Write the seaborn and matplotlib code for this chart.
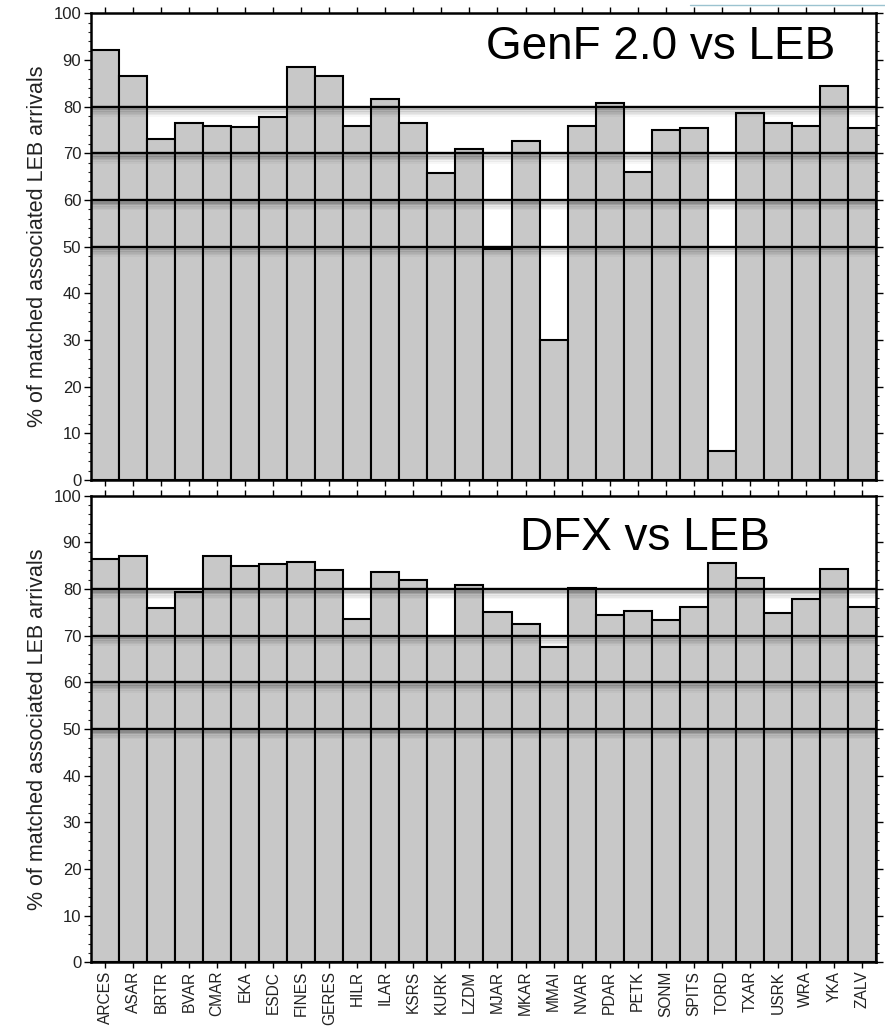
import numpy as np
import pandas as pd
import matplotlib
matplotlib.use("Agg")
import matplotlib.pyplot as plt
import matplotlib.patheffects as pe
from matplotlib.lines import Line2D
from matplotlib.ticker import MultipleLocator
import seaborn as sns

stations = ["ARCES", "ASAR", "BRTR", "BVAR", "CMAR", "EKA", "ESDC", "FINES", "GERES",
            "HILR", "ILAR", "KSRS", "KURK", "LZDM", "MJAR", "MKAR", "MMAI", "NVAR",
            "PDAR", "PETK", "SONM", "SPITS", "TORD", "TXAR", "USRK", "WRA", "YKA", "ZALV"]
genf_pct = [92.1, 86.5, 73.0, 76.6, 75.9, 75.6, 77.8, 88.5, 86.5,
            75.9, 81.6, 76.4, 65.8, 71.0, 49.5, 72.6, 30.0, 75.9,
            80.7, 66.0, 74.9, 75.5, 6.2, 78.7, 76.6, 75.8, 84.4, 75.5]
dfx_pct = [86.4, 87.0, 76.0, 79.4, 87.1, 85.0, 85.3, 85.8, 84.1,
           73.6, 83.6, 81.9, 69.9, 80.8, 75.1, 72.5, 67.5, 80.3,
           74.4, 75.3, 73.3, 76.2, 85.5, 82.3, 74.8, 77.8, 84.3, 76.2]
ref_levels = [50, 60, 70, 80]
titles = ["GenF 2.0 vs LEB", "DFX vs LEB"]
ylabel = "% of matched associated LEB arrivals"

sns.set_theme(style="ticks")
plt.rcParams["font.family"] = ["Liberation Sans", "DejaVu Sans"]

fig = plt.figure(figsize=(8.85, 10.27), dpi=100)
ax_top = fig.add_axes([0.1028, 0.5326, 0.8870, 0.4544])
ax_bot = fig.add_axes([0.1028, 0.0630, 0.8870, 0.4544])

shadow = [pe.SimpleLineShadow(offset=(0, -1.2 * k), shadow_color="black",
                              alpha=a, linewidth=2.2)
          for k, a in zip(range(1, 6), [0.20, 0.13, 0.08, 0.05, 0.03])] + [pe.Normal()]

configs = [(ax_top, genf_pct, titles[0], 0.948, 0.928, False),
           (ax_bot, dfx_pct, titles[1], 0.865, 0.909, True)]

for ax, vals, title, tx, ty, show_x in configs:
    df = pd.DataFrame({"station": stations, "pct": vals})
    sns.barplot(data=df, x="station", y="pct", ax=ax, color="#c8c8c8",
                saturation=1, width=1.0, edgecolor="black", linewidth=1.5,
                zorder=2)
    for lv in ref_levels:
        ax.axhline(lv, color="black", lw=1.7, zorder=4, path_effects=shadow)
    ax.set_xlim(-0.5, len(stations) - 0.5)
    ax.set_ylim(0, 100)
    ax.yaxis.set_major_locator(MultipleLocator(10))
    ax.yaxis.set_minor_locator(MultipleLocator(2))
    ax.tick_params(axis="y", which="major", direction="out", length=5, width=1,
                   left=True, right=True, labelleft=True, labelright=False,
                   labelsize=12, colors="black", labelcolor="#222222", pad=2)
    ax.tick_params(axis="y", which="minor", direction="out", length=2.5, width=0.8,
                   left=True, right=True)
    ax.tick_params(axis="x", which="major", direction="out", length=4, width=1,
                   top=True, bottom=True, labeltop=False, labelbottom=show_x,
                   labelsize=11.2, colors="black", labelcolor="#222222", pad=2)
    if show_x:
        ax.set_xticks(range(len(stations)))
        ax.set_xticklabels(stations, rotation=90, va="top", ha="center")
    for s in ax.spines.values():
        s.set_visible(True)
        s.set_linewidth(1.8)
        s.set_color("black")
        s.set_zorder(6)
    ax.set_xlabel("")
    ax.set_ylabel(ylabel, fontsize=15.5, color="#222222")
    ax.yaxis.set_label_coords(-0.055, 0.5)
    ax.text(tx, ty, title, transform=ax.transAxes, ha="right", va="center",
            fontsize=33, color="black", zorder=7)

fig.add_artist(Line2D([0.78, 1.0], [0.995, 0.995], transform=fig.transFigure,
                      color="#9cc3d0", lw=1))

fig.savefig("out.png", dpi=100)
